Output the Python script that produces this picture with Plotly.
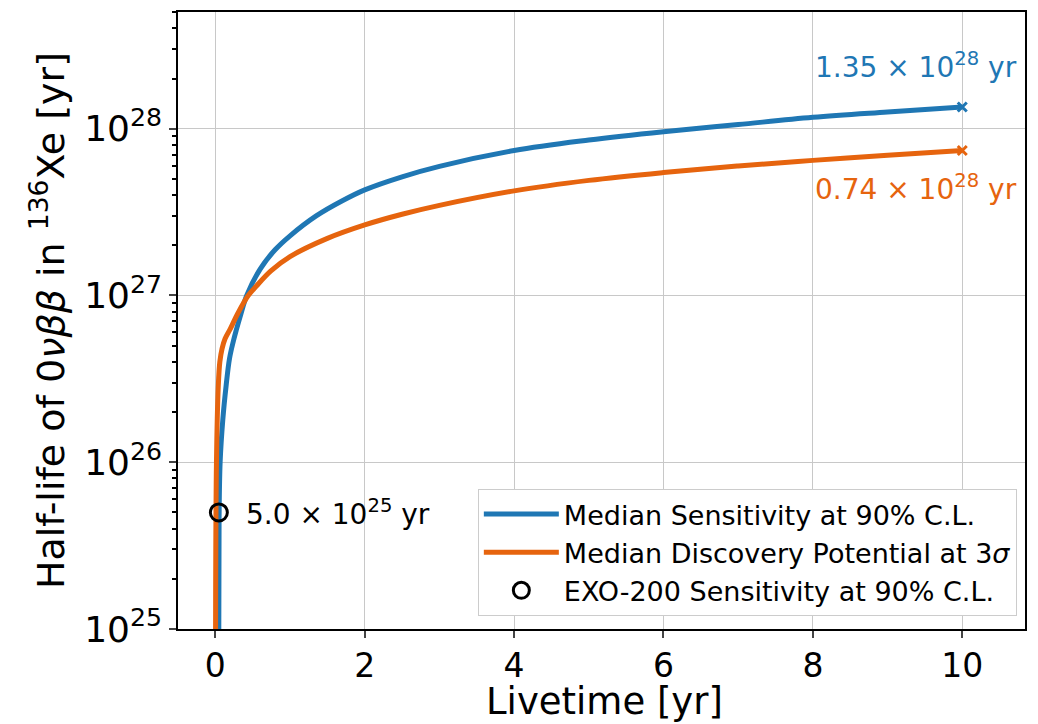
import math
import plotly.graph_objects as go

# ---- data ----
sens_x = [0.046, 0.05, 0.064, 0.10, 0.145, 0.19, 0.24, 0.28, 0.34, 0.42, 0.60, 0.80, 1.0, 1.35, 1.7,
          2.0, 2.5, 3.0, 4.0, 5.0, 6.0, 7.0, 8.0, 9.0, 10.0]
sens_y = [9e24, 4.6e25, 1e26, 1.8e26, 2.9e26, 4.2e26, 5.3e26, 6.2e26, 7.7e26, 1.0e27, 1.44e27, 1.88e27,
          2.28e27, 3.0e27, 3.7e27, 4.3e27, 5.15e27, 5.95e27, 7.4e27, 8.55e27, 9.6e27, 1.06e28,
          1.17e28, 1.26e28, 1.35e28]

disc_x = [0.003, 0.015, 0.04, 0.06, 0.09, 0.13, 0.20, 0.30, 0.44, 0.55, 0.74, 1.0, 1.5, 2.0, 2.5,
          3.0, 4.0, 5.0, 6.0, 7.0, 8.0, 9.0, 10.0]
disc_y = [9e24, 1e26, 2.9e26, 4.0e26, 4.8e26, 5.5e26, 6.3e26, 7.8e26, 1.0e27, 1.14e27, 1.40e27, 1.71e27,
          2.2e27, 2.65e27, 3.07e27, 3.47e27, 4.24e27, 4.9e27, 5.46e27, 5.98e27, 6.46e27, 6.94e27, 7.4e27]

exo_x = [0.047]
exo_y = [5.0e25]

sens_label = "1.35 × 10<sup>28</sup> yr"
disc_label = "0.74 × 10<sup>28</sup> yr"
exo_label = "5.0 × 10<sup>25</sup> yr"
x_title = "Livetime [yr]"
y_title = "Half-life of 0<i>νββ</i> in <sup>136</sup>Xe [yr]"

x_ticks = [0, 2, 4, 6, 8, 10]
y_exps = [25, 26, 27, 28]

BLUE = "#1f77b4"
ORANGE = "#e6640e"
FONT = "DejaVu Sans"

fig = go.Figure()
fig.add_trace(go.Scatter(x=sens_x, y=sens_y, mode="lines",
                         line=dict(color=BLUE, width=5, shape="spline", smoothing=1.0),
                         name="Median Sensitivity at 90% C.L."))
fig.add_trace(go.Scatter(x=disc_x, y=disc_y, mode="lines",
                         line=dict(color=ORANGE, width=5, shape="spline", smoothing=1.0),
                         name="Median Discovery Potential at 3<i>σ</i>"))
fig.add_trace(go.Scatter(x=exo_x, y=exo_y, mode="markers",
                         marker=dict(symbol="circle-open", size=17, color="black", line=dict(width=3)),
                         name="EXO-200 Sensitivity at 90% C.L."))
# end-point markers
fig.add_trace(go.Scatter(x=[sens_x[-1]], y=[sens_y[-1]], mode="markers", showlegend=False,
                         marker=dict(symbol="x-thin", size=9, line=dict(width=3, color=BLUE))))
fig.add_trace(go.Scatter(x=[disc_x[-1]], y=[disc_y[-1]], mode="markers", showlegend=False,
                         marker=dict(symbol="x-thin", size=9, line=dict(width=3, color=ORANGE))))

fig.add_annotation(x=9.38, y=math.log10(sens_y[-1]) + 0.25, xref="x", yref="y", text=sens_label,
                   showarrow=False, font=dict(family=FONT, size=28, color=BLUE))
fig.add_annotation(x=9.38, y=math.log10(disc_y[-1]) - 0.22, xref="x", yref="y", text=disc_label,
                   showarrow=False, font=dict(family=FONT, size=28, color=ORANGE))
fig.add_annotation(x=0.39, y=math.log10(exo_y[0]), xref="x", yref="y", text=exo_label,
                   showarrow=False, xanchor="left", font=dict(family=FONT, size=28, color="black"))
# x-axis title
fig.add_annotation(x=0.504, y=-0.118, xref="paper", yref="paper", text=x_title,
                   showarrow=False, xanchor="center", yanchor="middle",
                   font=dict(family=FONT, size=37, color="black"))

minor_vals = [float(m) * 10.0 ** e for e in y_exps for m in range(2, 10)]

fig.update_layout(
    width=1030, height=716,
    margin=dict(l=170, r=13, t=2, b=95),
    paper_bgcolor="white", plot_bgcolor="white",
    font=dict(family=FONT, color="black"),
    showlegend=True,
    legend=dict(x=0.354, y=0.021, xanchor="left", yanchor="bottom",
                bgcolor="white", bordercolor="#cccccc", borderwidth=1,
                font=dict(family=FONT, size=27), tracegroupgap=0, itemwidth=75),
    xaxis=dict(range=[-0.5, 10.84], tickvals=x_ticks, ticks="outside", ticklen=7, tickwidth=1.5,
               showline=True, mirror=True, linecolor="black", linewidth=1.5,
               showgrid=True, gridcolor="#c8c8c8", gridwidth=1, zeroline=False,
               tickfont=dict(family=FONT, size=33)),
    yaxis=dict(type="log", range=[25, 28.70],
               tickvals=[10.0 ** e for e in y_exps],
               ticktext=[f"10<sup>{e}</sup>" for e in y_exps],
               ticks="outside", ticklen=7, tickwidth=1.5,
               minor=dict(tickvals=minor_vals, ticks="outside", ticklen=4, tickcolor="black",
                          showgrid=False),
               showline=True, mirror=True, linecolor="black", linewidth=1.5,
               showgrid=True, gridcolor="#c8c8c8", gridwidth=1, zeroline=False,
               tickfont=dict(family=FONT, size=36),
               title=dict(text=y_title, font=dict(family=FONT, size=38), standoff=8)),
)

fig.write_html("out.html")
